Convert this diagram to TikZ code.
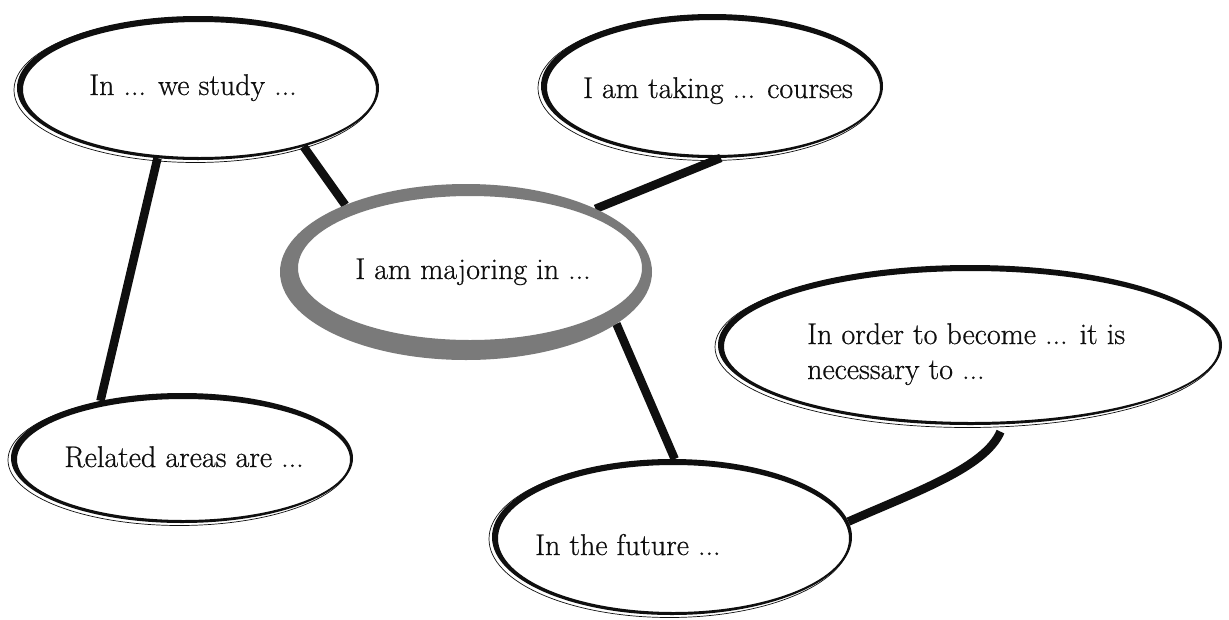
\documentclass[tikz,border=0pt]{standalone}
\usepackage{fontspec}
\setmainfont{Latin Modern Roman}[FakeBold=0.6]
\usetikzlibrary{shapes.geometric}

\definecolor{brushgray}{RGB}{122,122,122}
\definecolor{inkblack}{RGB}{15,15,15}

\pgfdeclarelayer{back}
\pgfsetlayers{back,main}

\tikzset{
  oval/.style={ellipse, inner sep=0pt, outer sep=0pt},
  link/.style={draw=inkblack, line width=8.5pt},
  words/.style={font=\fontsize{30}{35}\selectfont, text=inkblack, inner sep=0pt},
}

% hand-inked oval: thicker stroke at the upper left, thin doubled edge at the lower left
% #1 name, #2 #3 centre, #4 #5 radii
\newcommand\inkoval[5]{%
  \node[oval, minimum width={2*#4}, minimum height={2*#5}] (#1) at (#2,#3) {};
  \fill[inkblack, even odd rule] (#2,#3) ellipse [x radius={#4}, y radius={#5}]
        ({#2+1.5},{#3+1.5}) ellipse [x radius={#4-4.5}, y radius={#5-4.5}];
  \draw[inkblack, line width=0.7pt] ({#2-2.5},{#3+2}) ellipse [x radius={#4+0.5}, y radius={#5+0.5}];
}

\begin{document}
\begin{tikzpicture}[x=1pt, y=-1pt]
  \useasboundingbox (0,0) rectangle (1229,619);

  % central brush-stroke ring
  \node[oval, minimum width=372, minimum height=176] (major) at (466,272) {};
  \fill[brushgray, even odd rule] (466,272) ellipse [x radius=186, y radius=88]
                                  (470,268) ellipse [x radius=172, y radius=72];

  % surrounding ovals
  \inkoval{study}{198}{88}{181}{72}
  \inkoval{courses}{712}{86}{171}{72}
  \inkoval{become}{970}{345}{252}{80}
  \inkoval{related}{182}{458}{171}{65}
  \inkoval{future}{672}{537}{180}{78}

  % connectors
  \begin{pgfonlayer}{back}
    \fill[white] (0,0) rectangle (1229,619);
    \draw[link] (study.-29) -- (major.151);
    \draw[link] (study.240) -- (related.145);
    \draw[link] (major.26) -- (courses.-83);
    \draw[link] (major.-19) -- (future.88);
    \draw[link, shorten >=8pt] (future.5) .. controls (915,492) and (985,468) .. (become.-67);
  \end{pgfonlayer}

  % texts
  \node[words, anchor=base] (tstudy) at (193,95) {In ... we study ...};
  \node[words, anchor=base] (tcourses) at (718,98) {I am taking ... courses};
  \node[words, anchor=base] (tmajor) at (473,279) {I am majoring in ...};
  \node[words, anchor=north west, align=left] (tbecome) at (807,323) {In order to become ... it is\\necessary to ...};
  \node[words, anchor=base] (trelated) at (184,467) {Related areas are ...};
  \node[words, anchor=base west] (tfuture) at (535,555) {In the future ...};
\end{tikzpicture}
\end{document}
